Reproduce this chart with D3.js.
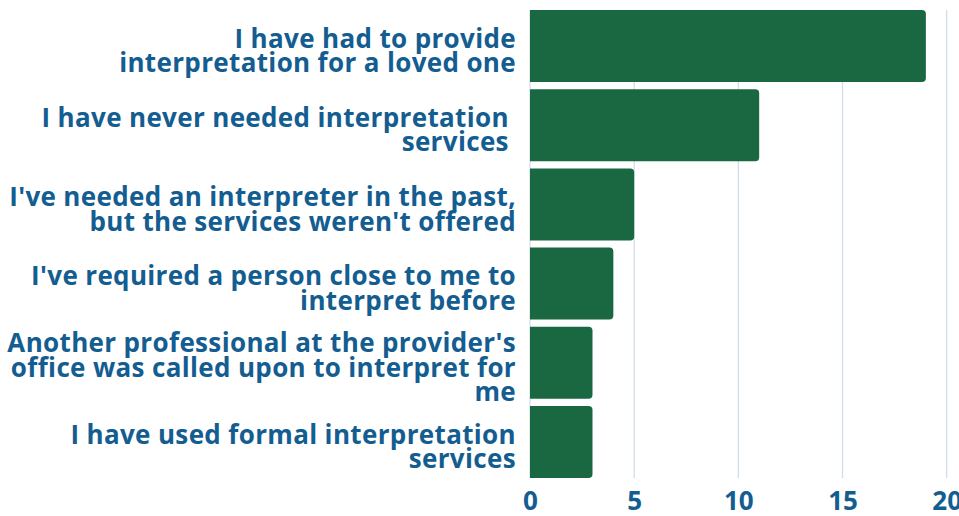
<!DOCTYPE html>
<html>
<head>
<meta charset="utf-8">
<script src="https://cdn.jsdelivr.net/npm/d3@7"></script>
<style>
  html, body { margin: 0; padding: 0; background: #fff; }
  svg text { font-family: "Open Sans", "Noto Sans", sans-serif; font-weight: 700; white-space: pre; }
</style>
</head>
<body>
<div id="grafica"></div>
<script>
// categorias (con saltos de linea como en la imagen)
const categorias = [
  "I have had to provide\ninterpretation for a loved one",
  "I have never needed interpretation \nservices ",
  "I've needed an interpreter in the past,\nbut the services weren't offered",
  "I've required a person close to me to\ninterpret before",
  "Another professional at the provider's\noffice was called upon to interpret for\nme",
  "I have used formal interpretation\nservices"
];
const valores = [19, 11, 5, 4, 3, 3];
const ticksX = [0, 5, 10, 15, 20];

const anchoTotal = 959, altoTotal = 516;
const margin = {top: 6.5, right: 12.3, bottom: 34.5, left: 530};

const grafica = d3.select("#grafica");
const svg = grafica.append("svg")
  .attr("width", anchoTotal)
  .attr("height", altoTotal);

const x = d3.scaleLinear().domain([0, 20]).range([margin.left, anchoTotal - margin.right]);
const y = d3.scaleBand()
  .domain(categorias)
  .range([margin.top, altoTotal - margin.bottom])
  .paddingInner(0.09)
  .paddingOuter(0.045);

const azul = "#135d91";
const verde = "#196841";

// lineas de la rejilla
const yTop = y(categorias[0]);
const yBot = y(categorias[categorias.length - 1]) + y.bandwidth();
svg.append("g").selectAll("line")
  .data(ticksX)
  .join("line")
  .attr("x1", d => x(d)).attr("x2", d => x(d))
  .attr("y1", yTop).attr("y2", yBot)
  .attr("stroke", "#cddbe8")
  .attr("stroke-width", 1.2);

// barras con esquinas redondeadas a la derecha
const r = 4;
function barra(x0, y0, w, h) {
  const rr = Math.min(r, w / 2);
  return `M${x0},${y0}H${x0 + w - rr}Q${x0 + w},${y0} ${x0 + w},${y0 + rr}` +
    `V${y0 + h - rr}Q${x0 + w},${y0 + h} ${x0 + w - rr},${y0 + h}H${x0}Z`;
}
svg.append("g").selectAll("path")
  .data(valores)
  .join("path")
  .attr("d", (d, i) => barra(x(0), y(categorias[i]), x(d) - x(0), y.bandwidth()))
  .attr("fill", verde);

// etiquetas del eje y
const lineaAlto = 24.3;
const etiquetas = svg.append("g")
  .selectAll("text")
  .data(categorias)
  .join("text")
  .attr("text-anchor", "end")
  .attr("fill", azul)
  .attr("font-size", 26)
  .attr("letter-spacing", 0.35);
etiquetas.each(function(d) {
  const lineas = d.split("\n");
  const cy = y(d) + y.bandwidth() / 2;
  const base = cy + 14 - (lineas.length - 1) * lineaAlto / 2;
  d3.select(this).selectAll("tspan")
    .data(lineas)
    .join("tspan")
    .attr("x", 516)
    .attr("y", (l, i) => base + i * lineaAlto)
    .text(l => l);
});

// eje x
const xAxis = svg.append("g")
  .attr("transform", `translate(0, ${altoTotal - margin.bottom})`)
  .call(d3.axisBottom(x).tickValues(ticksX).tickSize(0).tickPadding(10));
xAxis.select(".domain").remove();
xAxis.selectAll("text")
  .attr("fill", azul)
  .attr("font-size", 26)
  .attr("font-family", "\"Open Sans\", sans-serif")
  .attr("font-weight", 700)
  .attr("dy", "0.72em");
</script>
</body>
</html>
